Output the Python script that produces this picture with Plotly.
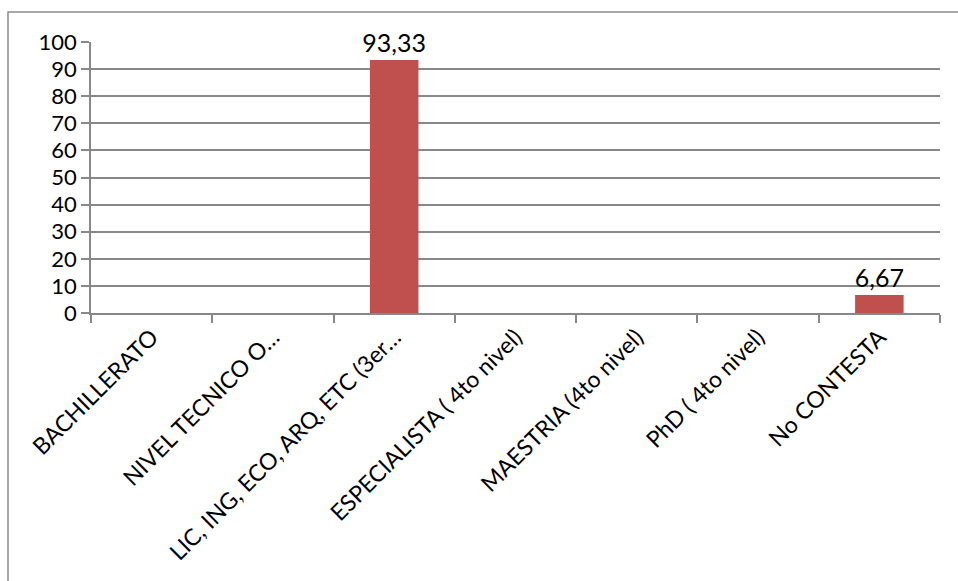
import plotly.graph_objects as go

categories = [
    "BACHILLERATO",
    "NIVEL TECNICO O…",
    "LIC, ING, ECO, ARQ, ETC (3er…",
    "ESPECIALISTA ( 4to nivel)",
    "MAESTRIA (4to nivel)",
    "PhD ( 4to nivel)",
    "No CONTESTA",
]
values = [0, 0, 93.33, 0, 0, 0, 6.67]
y_ticks = list(range(0, 101, 10))

labels = [f"{v:.2f}".replace(".", ",") if v > 0 else "" for v in values]

font_family = "Lato, sans-serif"
grid_col = "#888888"

fig = go.Figure(
    go.Bar(
        x=categories,
        y=values,
        marker=dict(color="#C0504D", line=dict(width=0)),
        width=0.4,
        text=labels,
        textposition="outside",
        constraintext="none",
        textfont=dict(size=25, color="#000000", family=font_family),
        cliponaxis=False,
        hoverinfo="skip",
    )
)

fig.update_layout(
    width=958,
    height=581,
    margin=dict(l=91, r=18, t=42, b=268),
    paper_bgcolor="white",
    plot_bgcolor="white",
    showlegend=False,
    font=dict(family=font_family, color="#000000"),
    xaxis=dict(
        type="category",
        automargin=False,
        tickangle=-45,
        tickfont=dict(size=23),
        showgrid=False,
        showline=True,
        linecolor=grid_col,
        linewidth=1.5,
        ticks="outside",
        tickson="boundaries",
        ticklen=8,
        tickcolor=grid_col,
        tickwidth=1.5,
        range=[-0.5, 6.5],
    ),
    yaxis=dict(
        range=[0, 100],
        automargin=False,
        tickvals=y_ticks,
        tickfont=dict(size=22),
        showgrid=True,
        gridcolor=grid_col,
        gridwidth=1.5,
        showline=True,
        linecolor=grid_col,
        linewidth=1.5,
        ticks="outside",
        ticklen=8,
        tickcolor=grid_col,
        tickwidth=1.5,
        zeroline=False,
    ),
    shapes=[
        dict(
            type="rect",
            xref="paper",
            yref="paper",
            x0=-83 / 849,
            x1=1.2,
            y0=-1.5,
            y1=(313 - 12) / 271,
            line=dict(color="#8c8c8c", width=1.5),
            fillcolor="rgba(0,0,0,0)",
            layer="below",
        )
    ],
)

fig.write_html("out.html")
